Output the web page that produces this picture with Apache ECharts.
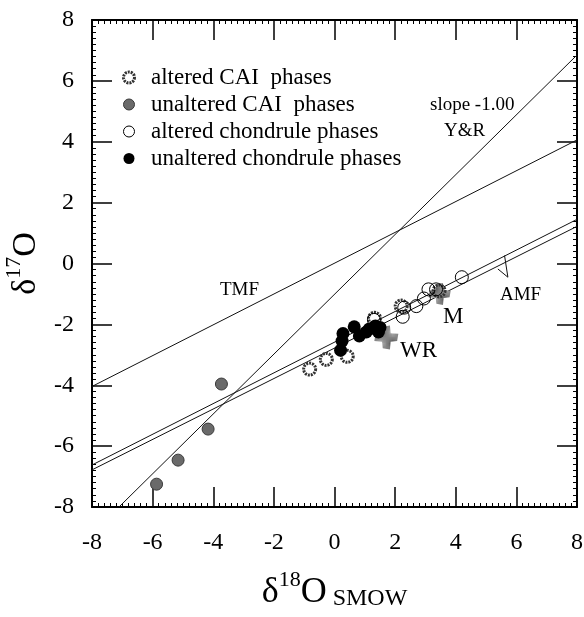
<!DOCTYPE html>
<html><head><meta charset="utf-8">
<script src="https://cdn.jsdelivr.net/npm/echarts@6/dist/echarts.min.js"></script>
<style>html,body{margin:0;padding:0;background:#fff}#c{width:584px;height:617px}</style>
</head><body><div id="c"></div>
<script>
// ---- data ----
const seriesNames = ['altered CAI  phases', 'unaltered CAI  phases', 'altered chondrule phases', 'unaltered chondrule phases'];
const alteredCAI = [[-0.82,-3.47],[-0.27,-3.15],[0.42,-3.05],[1.32,-1.8],[2.2,-1.4],[3.45,-0.9]];
const unalteredCAI = [[-5.87,-7.25],[-5.16,-6.46],[-4.17,-5.44],[-3.73,-3.96]];
const alteredChondrule = [[1.3,-1.85],[2.25,-1.75],[2.3,-1.45],[2.7,-1.4],[2.95,-1.15],[3.1,-0.85],[3.35,-0.85],[4.2,-0.45]];
const unalteredChondrule = [[0.28,-2.3],[0.25,-2.55],[0.2,-2.85],[0.65,-2.08],[0.82,-2.38],[1.05,-2.25],[1.15,-2.15],[1.35,-2.05],[1.45,-2.25],[1.5,-2.1]];
const wholeRock = [[1.71,-2.43]];
const matrix = [[3.47,-1.0]];
const yrLine = [[-7.11,-8],[8,6.85]];
const tmfLine = [[-8,-4.04],[8,4.06]];
const amfLineA = [[-8,-6.62],[8,1.45]];
const amfLineB = [[-8,-6.78],[8,1.22]];
const amfPointer = [[5.61,0.26],[5.72,-0.45],[5.39,-0.18]];

// ---- styling ----
const FONT = '"Liberation Serif", "Times New Roman", serif';
const pc = document.createElement('canvas'); pc.width = 4; pc.height = 4;
const g = pc.getContext('2d');
g.fillStyle = '#bdbdbd'; g.fillRect(0,0,4,4);
g.fillStyle = '#4a4a4a';
[[0,0],[2,0],[1,1],[3,1],[0,2],[2,2],[1,3],[3,3]].forEach(p => g.fillRect(p[0],p[1],1,1));
const stipple = { image: pc, repeat: 'repeat' };
const blobPath = 'path://M35,5 L65,0 L68,32 L100,35 L95,65 L68,68 L65,100 L35,95 L32,68 L0,65 L5,35 L32,32 Z';

function axisDef(pos, showLabel) {
  return {
    type: 'value', position: pos, min: -8, max: 8, interval: 2,
    axisLine: { show: true, onZero: false, lineStyle: { color: '#000', width: 2 } },
    axisTick: { show: true, inside: true, length: 20, lineStyle: { color: '#000', width: 1.5 } },
    minorTick: { show: true, splitNumber: 10, length: 4, lineStyle: { color: '#000', width: 1 } },
    splitLine: { show: false }, minorSplitLine: { show: false },
    axisLabel: { show: showLabel, color: '#000', fontFamily: FONT, fontSize: 24 }
  };
}
const xb = axisDef('bottom', true);
xb.axisLabel.margin = 24;
xb.name = '{a|δ}{b|18}{a|O}{c| SMOW}';
xb.nameLocation = 'middle';
xb.nameGap = 62;
xb.nameTextStyle = { color: '#000', fontFamily: FONT, rich: {
  a: { fontSize: 36, fontFamily: FONT, color: '#000', lineHeight: 42, verticalAlign: 'bottom' },
  b: { fontSize: 22, fontFamily: FONT, color: '#000', lineHeight: 34, verticalAlign: 'top' },
  c: { fontSize: 24, fontFamily: FONT, color: '#000', lineHeight: 30, verticalAlign: 'bottom' } } };
const xt = axisDef('top', false);
const yl = axisDef('left', true);
yl.axisLabel.margin = 18;
yl.name = '{a|δ}{b|17}{a|O}';
yl.nameLocation = 'middle';
yl.nameRotate = 90;
yl.nameGap = 42;
yl.nameTextStyle = { color: '#000', fontFamily: FONT, rich: {
  a: { fontSize: 34, fontFamily: FONT, color: '#000', lineHeight: 40, verticalAlign: 'bottom' },
  b: { fontSize: 22, fontFamily: FONT, color: '#000', lineHeight: 32, verticalAlign: 'top' } } };
const yr = axisDef('right', false);

function lineSeries(data) {
  return { type: 'line', data: data, symbol: 'none', silent: true, z: 2,
    lineStyle: { color: '#111', width: 1 } };
}
function note(txt, left, top, size) {
  return { text: txt, left: left, top: top, padding: 0, itemGap: 0,
    textStyle: { color: '#000', fontFamily: FONT, fontSize: size, fontWeight: 'normal', lineHeight: size } };
}
const ringCAI = { color: '#fff', borderColor: '#333', borderWidth: 3, borderType: [2, 1], opacity: 1 };
const dotCAI = { color: '#6a6a6a', borderColor: '#3a3a3a', borderWidth: 1, opacity: 1 };
const ringChd = { color: 'rgba(255,255,255,0)', borderColor: '#000', borderWidth: 1, opacity: 1 };
const dotChd = { color: '#000', borderColor: '#000', borderWidth: 0, opacity: 1 };

const chart = echarts.init(document.getElementById('c'), null, { renderer: 'canvas' });
chart.setOption({
  animation: false,
  backgroundColor: '#fff',
  textStyle: { fontFamily: FONT, color: '#000' },
  grid: { left: 92, right: 7, top: 20, bottom: 110, containLabel: false, outerBoundsMode: 'none' },
  xAxis: [xb, xt],
  yAxis: [yl, yr],
  title: [
    note('TMF', 220, 281, 19),
    note('slope -1.00', 430, 96, 19),
    note('Y&R', 444, 122, 19),
    note('AMF', 500, 286, 19),
    note('M', 443, 305, 23),
    note('WR', 400, 339, 23)
  ],
  legend: {
    orient: 'vertical', left: 117, top: 61, itemWidth: 34, itemHeight: 11, itemGap: 4,
    data: [
      { name: seriesNames[0], icon: 'circle', itemStyle: ringCAI },
      { name: seriesNames[1], icon: 'circle', itemStyle: dotCAI },
      { name: seriesNames[2], icon: 'circle', itemStyle: { color: '#fff', borderColor: '#000', borderWidth: 1 } },
      { name: seriesNames[3], icon: 'circle', itemStyle: dotChd }
    ],
    textStyle: { color: '#000', fontFamily: FONT, fontSize: 23, lineHeight: 23, padding: 0 }
  },
  series: [
    lineSeries(yrLine), lineSeries(tmfLine), lineSeries(amfLineA), lineSeries(amfLineB), lineSeries(amfPointer),
    { type: 'scatter', name: 'WR', data: wholeRock, symbol: blobPath, symbolSize: 24, z: 3,
      itemStyle: { color: stipple, borderWidth: 0, opacity: 1 } },
    { type: 'scatter', name: 'M', data: matrix, symbol: blobPath, symbolSize: 22, z: 3,
      itemStyle: { color: stipple, borderWidth: 0, opacity: 1 } },
    { type: 'scatter', name: seriesNames[0], data: alteredCAI, symbol: 'circle', symbolSize: 12, z: 4,
      itemStyle: Object.assign({}, ringCAI, { color: 'rgba(255,255,255,0)' }) },
    { type: 'scatter', name: seriesNames[1], data: unalteredCAI, symbol: 'circle', symbolSize: 12, z: 4,
      itemStyle: dotCAI },
    { type: 'scatter', name: seriesNames[3], data: unalteredChondrule, symbol: 'circle', symbolSize: 13, z: 5,
      itemStyle: dotChd },
    { type: 'scatter', name: seriesNames[2], data: alteredChondrule, symbol: 'circle', symbolSize: 13, z: 6,
      itemStyle: ringChd }
  ]
});
// make sure every element (including axis ticks) is in the painted frame
const zr = chart.getZr();
zr.storage.getDisplayList(true);
zr.flush();
setTimeout(function () { zr.storage.getDisplayList(true); zr.refreshImmediately(); }, 0);
</script>
</body></html>
